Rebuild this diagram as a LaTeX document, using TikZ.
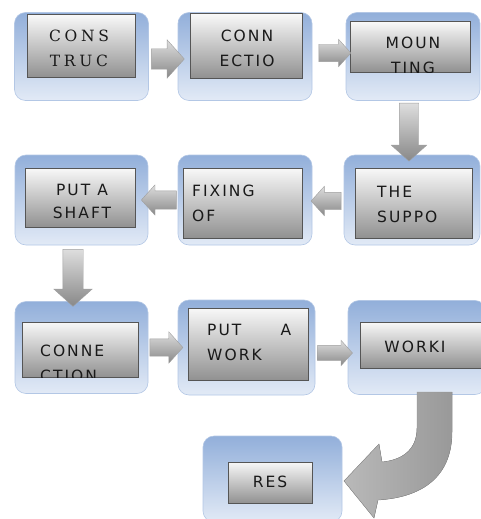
\documentclass[tikz,border=0pt]{standalone}
\usepackage{fontspec}
\setsansfont[LetterSpace=13]{DejaVu Sans}
\newfontfamily\serifcaps[LetterSpace=24]{DejaVu Serif}
\usetikzlibrary{shapes.arrows, positioning, calc}

\definecolor{stageTop}{RGB}{146,175,218}
\definecolor{stageBot}{RGB}{226,234,246}
\definecolor{cardTop}{RGB}{248,248,248}
\definecolor{cardBot}{RGB}{145,145,145}
\definecolor{cardLine}{RGB}{85,85,85}
\definecolor{arrTop}{RGB}{222,222,222}
\definecolor{arrBot}{RGB}{136,136,136}

\begin{document}
\begin{tikzpicture}[x=1pt, y=-1pt,
  stage/.style={rounded corners=11pt, top color=stageTop, bottom color=stageBot,
    draw=stageTop!70!white, line width=0.6pt, inner sep=0pt,
    minimum width=134pt, minimum height=88pt},
  card/.style={draw=cardLine, line width=1pt, top color=cardTop, bottom color=cardBot, inner sep=0pt},
  caption/.style={font=\sffamily\fontsize{15.5}{25}\selectfont, text=black!90, align=center, inner sep=0pt},
  flow/.style={single arrow, single arrow head extend=8pt, single arrow tip angle=96,
    inner sep=9pt, top color=arrTop, bottom color=arrBot, draw=gray!75, line width=0.4pt}
]
\useasboundingbox (0,0) rectangle (481,519);

% blue stages
\node[stage] (s1) at (81.5,56.5) {};
\node[stage] (s2) at (245,56.5) {};
\node[stage] (s3) at (413,56.5) {};
\node[stage, minimum width=136pt, minimum height=90pt] (s6) at (412,200) {};
\node[stage, minimum height=90pt] (s5) at (245,200) {};
\node[stage, minimum width=133pt, minimum height=90pt] (s4) at (81.5,200) {};
\node[stage, minimum width=133pt, minimum height=92pt] (s7) at (81.5,347.5) {};
\node[stage, minimum width=137pt, minimum height=95pt] (s8) at (246.5,347.5) {};
\node[stage, minimum width=138pt, minimum height=94pt] (s9) at (417,347.5) {};
\node[stage, minimum width=139pt, minimum height=86pt] (s10) at (272.5,479) {};

% gray cards
\node[card, minimum width=108pt, minimum height=62pt] (c1) at (81,46) {};
\node[card, minimum width=112pt, minimum height=64pt] (c2) at (246,46) {};
\node[card, minimum width=120pt, minimum height=50pt] (c3) at (410,47) {};
\node[card, minimum width=117pt, minimum height=70pt] (c6) at (413.5,203) {};
\node[card, minimum width=119pt, minimum height=70pt] (c5) at (242.5,203) {};
\node[card, minimum width=110pt, minimum height=59pt] (c4) at (80,197.5) {};
\node[card, minimum width=116pt, minimum height=55pt] (c7) at (80,349.5) {};
\node[card, minimum width=120pt, minimum height=72pt] (c8) at (248,344) {};
\node[card, minimum width=130pt, minimum height=46pt] (c9) at (425,345) {};
\node[card, minimum width=84pt, minimum height=41pt] (c10) at (270,482.5) {};

% texts
\node[caption, font=\serifcaps\fontsize{15.5}{25}\selectfont] (t1) at (79,48.5) {CONS\\TRUC};
\node[caption] (t2) at (247,48) {CONN\\ECTIO};
\begin{scope}
  \clip (c3.south west) rectangle (c3.north east);
  \node[caption] (t3) at (413,55.5) {MOUN\\TING};
\end{scope}
\node[caption, align=left, anchor=west] (t6) at (377,204.5) {THE\\SUPPO};
\node[caption, align=left, anchor=west] (t5) at (192,203.5) {FIXING\\OF};
\node[caption, font=\sffamily\fontsize{15.5}{23}\selectfont] (t4) at (82,201) {PUT A\\SHAFT};
\begin{scope}
  \clip (c7.south west) rectangle (c7.north east);
  \node[caption, align=left, anchor=west] (t7) at (40,363.5) {CONNE\\CTION};
\end{scope}
\node[caption, align=left, anchor=west] (t8) at (207,342.5) {\makebox[84pt][l]{PUT\hfill A}\\WORK};
\node[caption] (t9) at (415,347) {WORKI};
\node[caption] (t10) at (270,482) {RES};

% block arrows
\node[flow, minimum height=33pt, inner sep=10pt, single arrow head extend=9pt, yshift=-2.5pt] (a1) at ($(s1.east)!0.5!(s2.west)$) {};
\node[flow, minimum height=32pt, inner sep=8.5pt, single arrow head extend=5pt, yshift=3.5pt, xshift=2pt] (a2) at ($(s2.east)!0.5!(s3.west)$) {};
\node[flow, minimum height=58pt, shape border rotate=270, inner sep=9.5pt, single arrow head extend=8pt] (a3) at ($(s3.south)!0.5!(s6.north)+(-3.5,0)$) {};
\node[flow, minimum height=30pt, shape border rotate=180, inner sep=8.5pt, single arrow head extend=6pt, yshift=-1pt, xshift=2pt] (a4) at ($(s6.west)!0.5!(s5.east)$) {};
\node[flow, minimum height=35pt, shape border rotate=180, inner sep=9pt, single arrow head extend=6pt] (a5) at ($(s5.west)!0.5!(s4.east)$) {};
\node[flow, minimum height=57pt, shape border rotate=270, inner sep=10pt, single arrow head extend=9pt] (a6) at ($(s4.south)!0.5!(s7.north)+(-8.5,0)$) {};
\node[flow, minimum height=33pt, inner sep=8.5pt, single arrow head extend=7pt, xshift=-0.5pt] (a7) at ($(s7.east)!0.5!(s8.west)$) {};
\node[flow, minimum height=35pt, inner sep=7.5pt, single arrow head extend=5pt, yshift=-5.5pt] (a8) at ($(s8.east)!0.5!(s9.west)$) {};

% bent arrow down to the result
\fill[left color=gray!55, right color=gray!80, draw=gray!85, line width=0.4pt]
  (417,392) -- (417,428) .. controls (417,450) and (402,460) .. (382,462)
  -- (379,444) -- (344,481) -- (374,518) -- (378,500)
  .. controls (428,497) and (452,472) .. (452,432) -- (452,392) -- cycle;
\end{tikzpicture}
\end{document}
